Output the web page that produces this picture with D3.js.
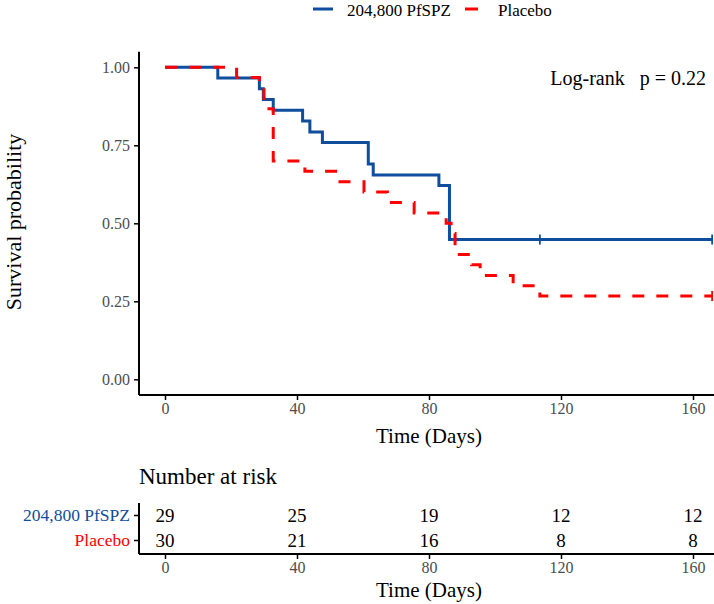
<!DOCTYPE html>
<html><head><meta charset="utf-8">
<script src="https://cdn.jsdelivr.net/npm/d3@7"></script>
<style>body{margin:0;background:#fff}svg{display:block}text{font-family:"Liberation Serif","Times New Roman",serif}</style>
</head><body>
<svg id="chart" width="714" height="604"></svg>
<script>
// ---- data ----
const groups = ["204,800 PfSPZ", "Placebo"];
const colors = ["#0E4E9C", "#FF0000"];
// Kaplan-Meier step points (time in days, survival probability)
const pfspzTimes = [0, 16, 28.6, 29.8, 32.8, 41.7, 43.9, 47.7, 61.6, 63.1, 83, 86.2];
const pfspzSurv  = [1, 0.966, 0.931, 0.897, 0.862, 0.828, 0.793, 0.759, 0.690, 0.655, 0.621, 0.448];
const pfspzCensor = [113.6, 165.8];
const placeboTimes = [0, 21.7, 28.6, 30, 31.5, 32.8, 42.4, 52.4, 60.3, 67.4, 75.5, 85.2, 86.7, 87.9, 92.9, 95.5, 105.5, 113.6];
const placeboSurv  = [1, 0.967, 0.933, 0.9, 0.867, 0.7, 0.667, 0.633, 0.6, 0.567, 0.533, 0.5, 0.467, 0.4, 0.367, 0.333, 0.3, 0.267];
const placeboCensor = [165.8];
const endTime = 165.8;
const xTicks = [0, 40, 80, 120, 160];
const yTicks = [0, 0.25, 0.5, 0.75, 1];
const riskPfspz = [29, 25, 19, 12, 12];
const riskPlacebo = [30, 21, 16, 8, 8];
const pText = "Log-rank   p = 0.22";

// ---- layout ----
const svg = d3.select("#chart");
const x = d3.scaleLinear().domain([0, 160]).range([165, 693]);
const y = d3.scaleLinear().domain([0, 1]).range([379.3, 67.3]);
const axisLeftX = 139, axisBottomY = 395, panelTop = 51.7, rightEdge = 714;
const tickGray = "#4D4D4D";
const tickFont = "16px";

// y axis
const yAxis = d3.axisLeft(y).tickValues(yTicks).tickFormat(d3.format(".2f")).tickSize(5).tickPadding(4);
const gy = svg.append("g").attr("transform", `translate(${axisLeftX},0)`).call(yAxis);
gy.select(".domain").remove();
gy.append("line").attr("x1",0).attr("x2",0).attr("y1",panelTop).attr("y2",axisBottomY).attr("stroke","#000").attr("stroke-width",2);
gy.selectAll(".tick line").attr("stroke","#000").attr("stroke-width",1.5);
gy.selectAll(".tick text").attr("fill",tickGray).style("font-size",tickFont).style("font-family","Liberation Serif");

// x axis
const xAxis = d3.axisBottom(x).tickValues(xTicks).tickSize(5).tickPadding(3);
const gx = svg.append("g").attr("transform", `translate(0,${axisBottomY})`).call(xAxis);
gx.select(".domain").remove();
gx.append("line").attr("x1",axisLeftX).attr("x2",rightEdge).attr("y1",0).attr("y2",0).attr("stroke","#000").attr("stroke-width",2);
gx.selectAll(".tick line").attr("stroke","#000").attr("stroke-width",1.5);
gx.selectAll(".tick text").attr("fill",tickGray).style("font-size",tickFont).style("font-family","Liberation Serif");

svg.append("text").attr("x", 429).attr("y", 443).attr("text-anchor","middle").style("font-size","21px").text("Time (Days)");
svg.append("text").attr("transform","translate(21,222) rotate(-90)").attr("text-anchor","middle").style("font-size","22px").text("Survival probability");

// curves
const line = d3.line().x(d => x(d[0])).y(d => y(d[1])).curve(d3.curveStepAfter);
function pts(t, s){ const p = t.map((v,i)=>[v, s[i]]); p.push([endTime, s[s.length-1]]); return p; }
const series = [
  {pts: pts(pfspzTimes, pfspzSurv), color: colors[0], dash: null, censor: pfspzCensor, last: pfspzSurv[pfspzSurv.length-1]},
  {pts: pts(placeboTimes, placeboSurv), color: colors[1], dash: "12,12", censor: placeboCensor, last: placeboSurv[placeboSurv.length-1]}
];
series.forEach(s => {
  svg.append("path").attr("d", line(s.pts)).attr("fill","none").attr("stroke", s.color)
    .attr("stroke-width", 3).attr("stroke-dasharray", s.dash);
  s.censor.forEach(c => {
    svg.append("line").attr("x1", x(c)).attr("x2", x(c)).attr("y1", y(s.last)-5).attr("y2", y(s.last)+5)
      .attr("stroke", s.color).attr("stroke-width", 1.8);
  });
});

svg.append("text").attr("x", 706).attr("y", 85).attr("text-anchor","end").attr("xml:space","preserve").style("font-size","20px").style("white-space","pre").text(pText);

// legend
const leg = svg.append("g");
leg.append("line").attr("x1",313).attr("x2",333).attr("y1",9).attr("y2",9).attr("stroke",colors[0]).attr("stroke-width",3);
leg.append("text").attr("x",347).attr("y",16).style("font-size","17px").text(groups[0]);
leg.append("line").attr("x1",465).attr("x2",478).attr("y1",9).attr("y2",9).attr("stroke",colors[1]).attr("stroke-width",3);
leg.append("text").attr("x",498).attr("y",16).style("font-size","17px").text(groups[1]);

// risk table
svg.append("text").attr("x",139).attr("y",484).style("font-size","23px").text("Number at risk");
const rowY = d3.scaleBand().domain(groups).range([503, 553]).padding(0);
const tAxisY = 554;
const gty = svg.append("g").attr("transform",`translate(${axisLeftX},0)`).call(d3.axisLeft(rowY).tickSize(5).tickPadding(4));
gty.select(".domain").remove();
gty.append("line").attr("x1",0).attr("x2",0).attr("y1",503).attr("y2",tAxisY).attr("stroke","#000").attr("stroke-width",2);
gty.selectAll(".tick line").attr("stroke","#000").attr("stroke-width",1.5);
gty.selectAll(".tick text").attr("fill",(d,i)=>colors[i]).style("font-size","17.5px").style("font-family","Liberation Serif");
const gtx = svg.append("g").attr("transform",`translate(0,${tAxisY})`).call(d3.axisBottom(x).tickValues(xTicks).tickSize(5).tickPadding(3));
gtx.select(".domain").remove();
gtx.append("line").attr("x1",axisLeftX).attr("x2",rightEdge).attr("y1",0).attr("y2",0).attr("stroke","#000").attr("stroke-width",2);
gtx.selectAll(".tick line").attr("stroke","#000").attr("stroke-width",1.5);
gtx.selectAll(".tick text").attr("fill",tickGray).style("font-size",tickFont).style("font-family","Liberation Serif");
svg.append("text").attr("x", 429).attr("y", 597).attr("text-anchor","middle").style("font-size","21px").text("Time (Days)");

[riskPfspz, riskPlacebo].forEach((arr, gi) => {
  svg.selectAll(null).data(arr).enter().append("text")
    .attr("x", (d,i)=>x(xTicks[i])).attr("y", rowY(groups[gi]) + rowY.bandwidth()/2)
    .attr("dy","0.35em").attr("text-anchor","middle").style("font-size","19px").text(d=>d);
});
</script>
</body></html>
